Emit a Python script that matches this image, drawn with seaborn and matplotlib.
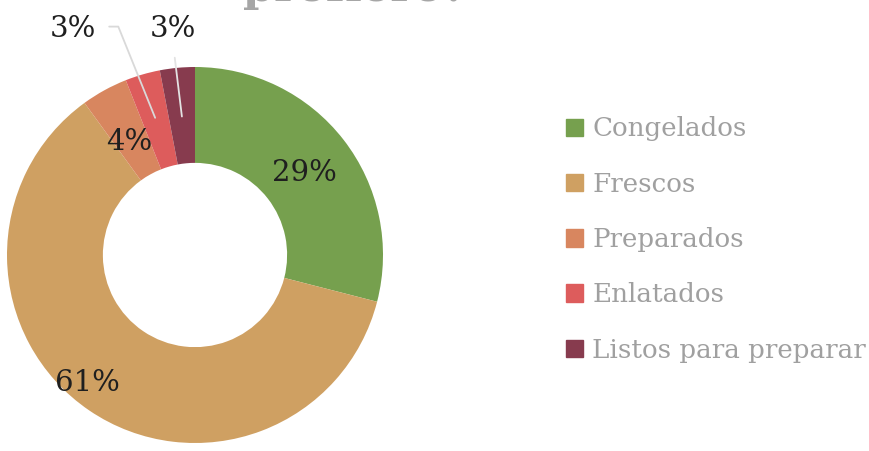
import matplotlib
matplotlib.use("Agg")
import matplotlib.pyplot as plt
import seaborn as sns
import numpy as np

categories = ["Congelados", "Frescos", "Preparados", "Enlatados", "Listos para preparar"]
values = [29, 61, 4, 3, 3]
colors = ["#76A04E", "#CFA062", "#D8865F", "#DD5C5C", "#873B4E"]
title_fragment = "prefiere?"

sns.set_theme(style="white")
plt.rcParams['font.family'] = ['DejaVu Serif']

W, H = 869, 451
fig = plt.figure(figsize=(W / 100, H / 100), dpi=100)
cx, cy, R = 195, 255, 188
ax = fig.add_axes([(cx - R) / W, (H - cy - R) / H, 2 * R / W, 2 * R / H])

wedges, _ = ax.pie(values, colors=colors, startangle=90, counterclock=False,
                   radius=1.0, wedgeprops=dict(width=0.51, edgecolor="none"))
ax.set_xlim(-1, 1)
ax.set_ylim(-1, 1)
ax.set_aspect("equal")
ax.axis("off")

total = sum(values)
cum = np.cumsum([0] + values)
mids = [90 - 360 * (cum[i] + values[i] / 2) / total for i in range(len(values))]
txtcol = "#1f1f1f"
fs = 21

def pt(ang, r):
    a = np.deg2rad(ang)
    return r * np.cos(a), r * np.sin(a)

# Congelados
x, y = pt(mids[0], 0.74)
ax.text(x, y - 0.02, f"{values[0]}%", ha="center", va="center", fontsize=fs, color=txtcol)
# Frescos
ax.text(-0.574, -0.681, f"{values[1]}%", ha="center", va="center", fontsize=fs, color=txtcol)
# Preparados
x, y = pt(mids[2], 0.73)
ax.text(x, y - 0.04, f"{values[2]}%", ha="center", va="center", fontsize=fs, color=txtcol)
# Enlatados (leader)
x, y = pt(mids[3], 0.76)
ax.annotate(f"{values[3]}%", xy=(x, y), xytext=(-0.649, 1.2), ha="center", va="center",
            fontsize=fs, color=txtcol, annotation_clip=False,
            arrowprops=dict(arrowstyle="-", color="#d9d9d9", lw=1.3,
                            connectionstyle="angle,angleA=0,angleB=112,rad=0",
                            relpos=(1.0, 0.6), shrinkA=7, shrinkB=0))
# Listos (leader)
x, y = pt(mids[4], 0.74)
ax.annotate(f"{values[4]}%", xy=(x, y), xytext=(-0.117, 1.2), ha="center", va="center",
            fontsize=fs, color=txtcol, annotation_clip=False,
            arrowprops=dict(arrowstyle="-", color="#e3e3e3", lw=1.3,
                            relpos=(0.5, 0.0), shrinkA=8, shrinkB=0))

# legend
lfs = 18.8
handles = [plt.Rectangle((0, 0), 1, 1, color=c) for c in colors]
leg = fig.legend(handles, categories, loc="upper left", bbox_to_anchor=(556 / W, 1 - 106 / H),
                 frameon=False, fontsize=lfs, labelcolor="#a0a0a0",
                 handlelength=0.65, handleheight=0.65, handletextpad=0.34,
                 labelspacing=1.16, borderaxespad=0)

# clipped title fragment
fig.text(355 / W, 1 - 0.8 / H, title_fragment, ha="center", va="baseline",
         fontsize=32, fontweight="bold", color="#a6a6a6")

fig.savefig("out.png", dpi=100, facecolor="white")
